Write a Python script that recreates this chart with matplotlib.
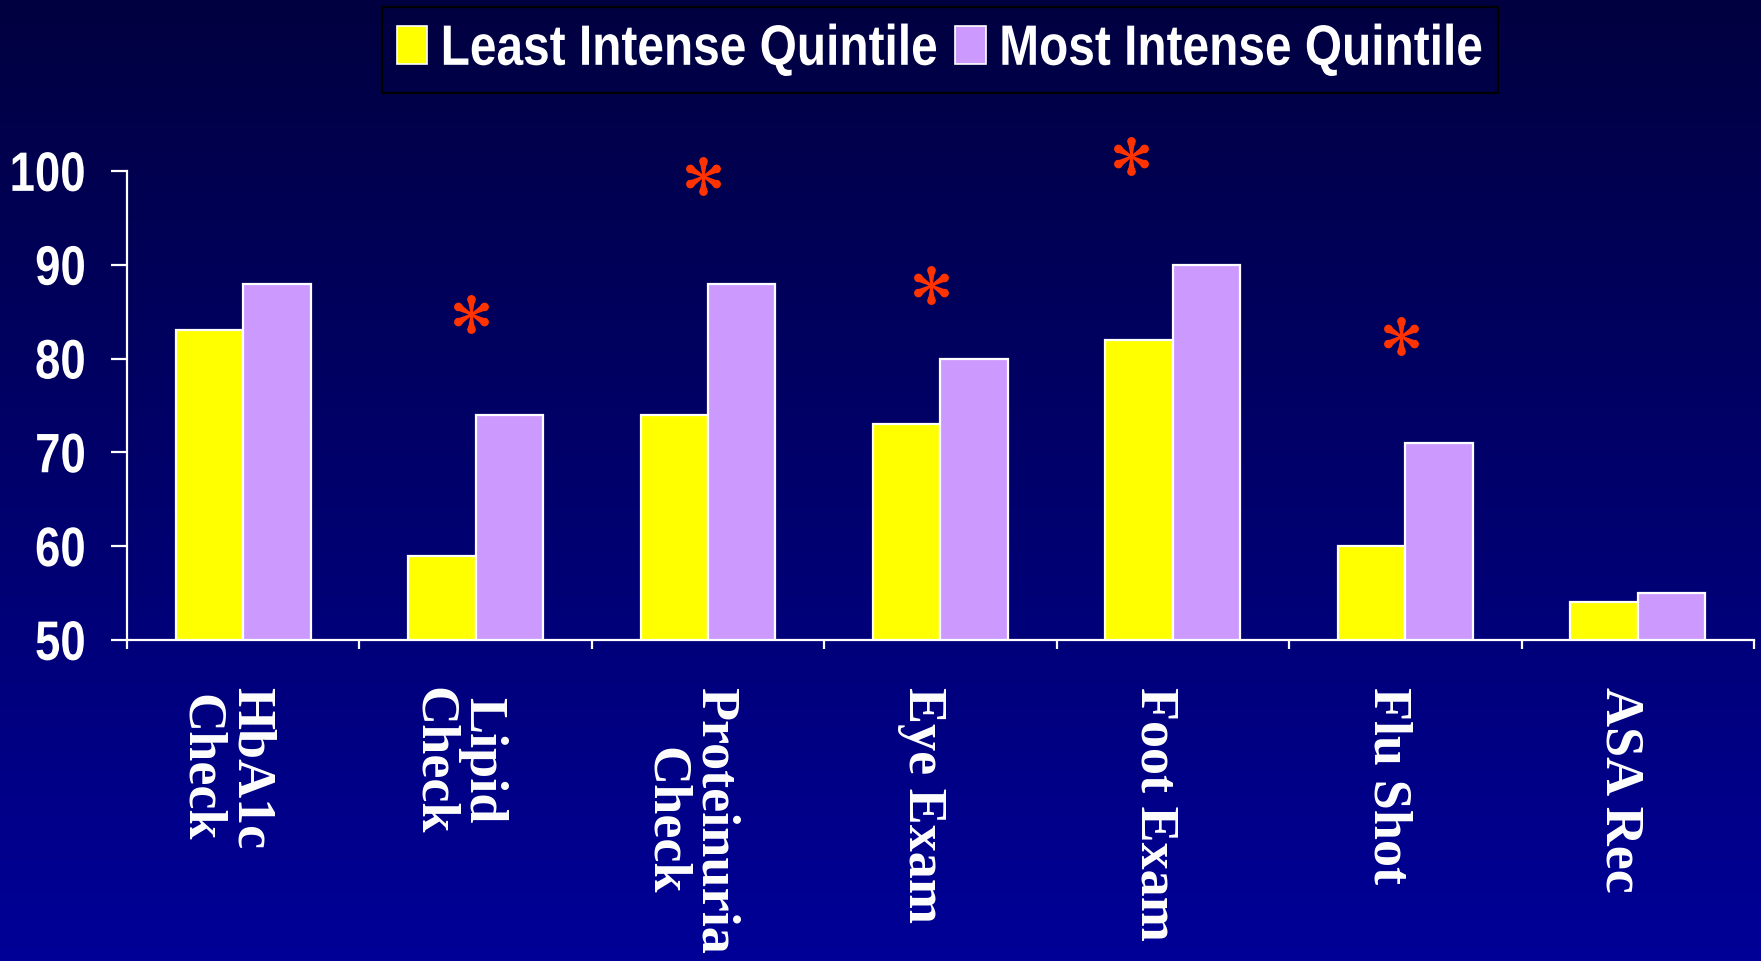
import numpy as np
import matplotlib
matplotlib.use("Agg")
import matplotlib.pyplot as plt
from matplotlib.patches import Patch, Rectangle
from matplotlib.path import Path
from matplotlib.patheffects import AbstractPathEffect
from matplotlib.font_manager import FontProperties
from matplotlib import transforms

# ---- data ----
categories = ["HbA1c\nCheck", "Lipid\nCheck", "Proteinuria\nCheck",
              "Eye Exam", "Foot Exam", "Flu Shot", "ASA Rec"]
least_intense = [83, 59, 74, 73, 82, 60, 54]
most_intense = [88, 74, 88, 80, 90, 71, 55]
series_names = ["Least Intense Quintile", "Most Intense Quintile"]
y_ticks = [50, 60, 70, 80, 90, 100]
# significant differences (x in category units, y in %)
star_x = [1.48, 2.48, 3.46, 4.32, 5.48]
star_y = [84.8, 99.5, 87.8, 101.6, 82.4]

# ---- styling ----
YELLOW = "#FFFF00"
LILAC = "#CC99FF"
STAR_RED = "#FF3300"
TOP_BG = np.array([0x00, 0x00, 0x40]) / 255
BOT_BG = np.array([0x00, 0x00, 0x97]) / 255
SANS = ["Liberation Sans", "DejaVu Sans"]
SERIF = ["Liberation Serif", "DejaVu Serif"]
LEG_NARROW = 0.84  # horizontal squeeze for the narrow legend lettering


class Squeeze(AbstractPathEffect):
    """Draw text glyphs rescaled about a chosen horizontal anchor."""

    def __init__(self, sx, sy=1.0, anchor="left"):
        super().__init__()
        self.sx, self.sy, self.anchor = sx, sy, anchor

    def draw_path(self, renderer, gc, tpath, affine, rgbFace=None):
        v = tpath.vertices if len(tpath.vertices) else np.zeros((1, 2))
        if self.anchor == "right":
            px = v[:, 0].max()
        elif self.anchor == "center":
            px = 0.5 * (v[:, 0].min() + v[:, 0].max())
        else:
            px = 0.0
        py = 0.5 * (v[:, 1].min() + v[:, 1].max()) if self.sy != 1 else 0.0
        pre = (transforms.Affine2D().translate(-px, -py)
               .scale(self.sx, self.sy).translate(px, py))
        renderer.draw_path(gc, tpath, pre + affine, rgbFace)


def petal_star():
    """Six tear-drop petals joined at the centre."""
    verts, codes = [], []
    c, rho = 0.78, 0.22
    w0, w1 = 0.05, 0.19
    circ = np.linspace(0, 2 * np.pi, 49)
    for k in range(6):
        a = np.deg2rad(90 + 60 * k)
        u = np.array([np.cos(a), np.sin(a)])
        p = np.array([-u[1], u[0]])
        pts = [c * u + rho * (np.cos(t) * u + np.sin(t) * p) for t in circ]
        verts += pts
        codes += [Path.MOVETO] + [Path.LINETO] * (len(pts) - 2) + [Path.CLOSEPOLY]
        pts = [-w0 * p, c * u - w1 * p, c * u + w1 * p, w0 * p, -w0 * p]
        verts += pts
        codes += [Path.MOVETO, Path.LINETO, Path.LINETO, Path.LINETO, Path.CLOSEPOLY]
    return Path(np.array(verts), codes)


fig = plt.figure(figsize=(17.61, 9.62), dpi=100)
W_PX, H_PX = 1761, 962

# vertical gradient background
bg = fig.add_axes([0, 0, 1, 1], zorder=-10)
t = np.linspace(0, 1, 256)[:, None, None]
grad = TOP_BG * (1 - t) + BOT_BG * t
bg.imshow(grad, aspect="auto", extent=[0, 1, 0, 1], interpolation="bilinear")
bg.axis("off")

ax = fig.add_axes([0.0721, 0.3337, 0.9239, 0.4875])
ax.patch.set_alpha(0)

n = len(categories)
centers = np.arange(n) + 0.5
w = 0.29
ax.bar(centers - w / 2, [v - 50 for v in least_intense], width=w, bottom=50,
       color=YELLOW, edgecolor="white", linewidth=1.6, zorder=3)
ax.bar(centers + w / 2, [v - 50 for v in most_intense], width=w, bottom=50,
       color=LILAC, edgecolor="white", linewidth=1.6, zorder=3)

ax.plot(star_x, star_y, linestyle="none", marker=petal_star(), markersize=28,
        color=STAR_RED, markeredgewidth=0, clip_on=False, zorder=4)

ax.set_xlim(0, n)
ax.set_ylim(50, 100)
for s in ("top", "right"):
    ax.spines[s].set_visible(False)
for s in ("left", "bottom"):
    ax.spines[s].set_color("white")
    ax.spines[s].set_linewidth(1.6)

ax.set_yticks(y_ticks)
ax.set_yticklabels([str(v) for v in y_ticks])
ax.tick_params(axis="y", colors="white", length=11.5, width=1.6, direction="out",
               pad=18)
ytick_fs = 34
ytick_grow = 40 / ytick_fs
for lab in ax.get_yticklabels():
    lab.set_family(SANS)
    lab.set_fontweight("bold")
    lab.set_fontsize(ytick_fs)
    lab.set_path_effects([Squeeze(0.82 * ytick_grow, ytick_grow, anchor="right")])

ax.set_xticks(centers)
ax.set_xticks(np.arange(n + 1), minor=True)
ax.set_xticklabels(categories)
ax.tick_params(axis="x", which="major", length=0, pad=33, colors="white")
ax.tick_params(axis="x", which="minor", length=6.5, width=1.6, color="white",
               direction="out")
shift = transforms.ScaledTranslation(-18 / 100, 0, fig.dpi_scale_trans)
for lab in ax.get_xticklabels():
    lab.set_family(SERIF)
    lab.set_fontweight("bold")
    lab.set_fontsize(39)
    lab.set_rotation(-90)
    lab.set_va("top")
    lab.set_ha("center")
    lab.set_multialignment("center")
    lab.set_linespacing(1.0)
    lab.set_transform(lab.get_transform() + shift)

# ---- legend ----
leg_fs = 41
leg_prop = FontProperties(family=SANS, weight="bold", size=leg_fs)
renderer = fig.canvas.get_renderer()
text_w = []
for name in series_names:
    tmp = fig.text(0, 0, name, fontproperties=leg_prop)
    text_w.append(tmp.get_window_extent(renderer).width)
    tmp.remove()
fs_px = leg_fs * fig.dpi / 72
gap_px = 17
colspace = (gap_px - (1 - LEG_NARROW) * text_w[0]) / fs_px

handles = [Patch(facecolor=YELLOW, edgecolor="white", linewidth=1.2),
           Patch(facecolor=LILAC, edgecolor="white", linewidth=1.2)]
leg = fig.legend(handles, series_names, loc="upper left",
                 bbox_to_anchor=(382 / W_PX, 1 - 9 / H_PX), ncol=2, frameon=False,
                 prop=leg_prop, handlelength=0.53, handleheight=0.66,
                 handletextpad=0.24, columnspacing=colspace, borderpad=0.26,
                 borderaxespad=0)
for txt in leg.get_texts():
    txt.set_color("white")
    txt.set_path_effects([Squeeze(LEG_NARROW, anchor="left")])

# frame drawn around the squeezed legend content
fig.canvas.draw()
bb = leg.get_window_extent(renderer)
x0, y0 = bb.x0, bb.y0 - 1
x1 = bb.x1 - (1 - LEG_NARROW) * text_w[1]
y1 = bb.y1 + 1
fig.patches.append(Rectangle((x0 / W_PX, y0 / H_PX), (x1 - x0) / W_PX,
                             (y1 - y0) / H_PX, transform=fig.transFigure,
                             facecolor="none", edgecolor="black", linewidth=1.6,
                             zorder=5))

fig.savefig("out.png", dpi=100)
